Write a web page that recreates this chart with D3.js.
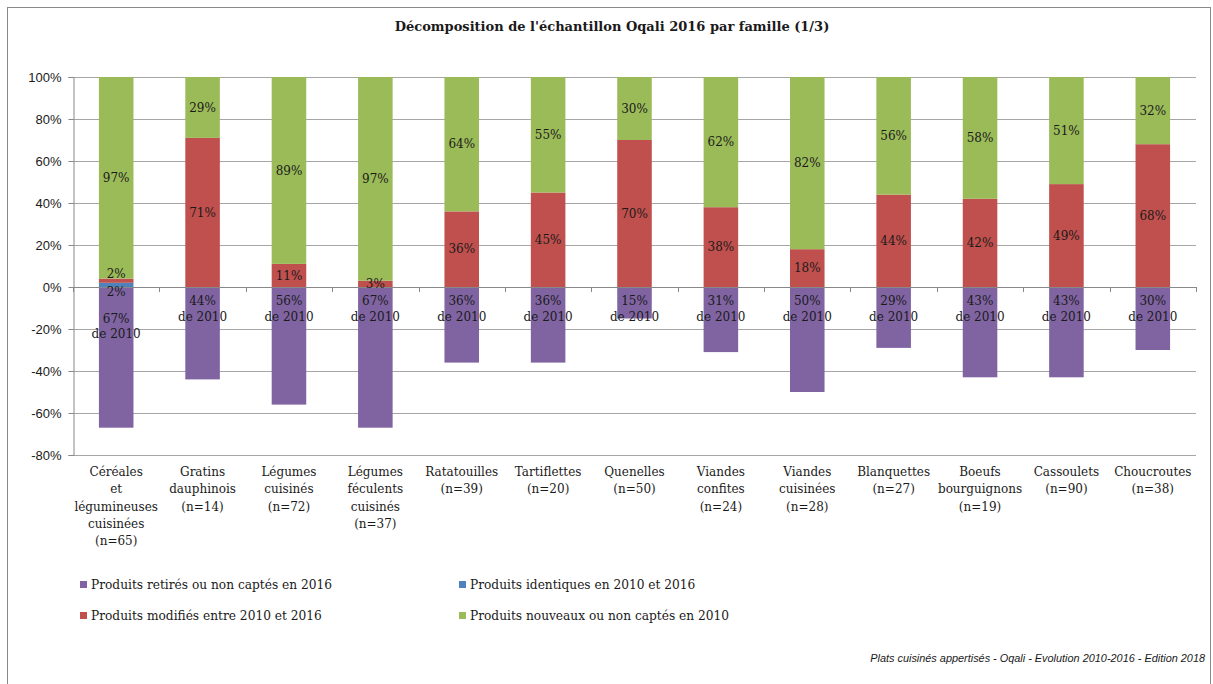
<!DOCTYPE html>
<html><head><meta charset="utf-8">
<script src="https://cdn.jsdelivr.net/npm/d3@7"></script>
<style>
body{margin:0;background:#fff;}
svg text{fill:#1a1a1a;}
</style></head>
<body><svg id="c" width="1213" height="684"></svg>
<script>
const categories = [
  ["Céréales","et","légumineuses","cuisinées","(n=65)"],
  ["Gratins","dauphinois","(n=14)"],
  ["Légumes","cuisinés","(n=72)"],
  ["Légumes","féculents","cuisinés","(n=37)"],
  ["Ratatouilles","(n=39)"],
  ["Tartiflettes","(n=20)"],
  ["Quenelles","(n=50)"],
  ["Viandes","confites","(n=24)"],
  ["Viandes","cuisinées","(n=28)"],
  ["Blanquettes","(n=27)"],
  ["Boeufs","bourguignons","(n=19)"],
  ["Cassoulets","(n=90)"],
  ["Choucroutes","(n=38)"]
];
const retires    = [67,44,56,67,36,36,15,31,50,29,43,43,30];
const identiques = [2,0,0,0,0,0,0,0,0,0,0,0,0];
const modifies   = [2,71,11,3,36,45,70,38,18,44,42,49,68];
const nouveaux   = [97,29,89,97,64,55,30,62,82,56,58,51,32];
const yTicks = [100,80,60,40,20,0,-20,-40,-60,-80];
const seriesNames = ["Produits retirés ou non captés en 2016","Produits identiques en 2010 et 2016","Produits modifiés entre 2010 et 2016","Produits nouveaux ou non captés en 2010"];
const colors = ["#8064A2","#4F81BD","#C0504D","#9BBB59"];
const title = "Décomposition de l'échantillon Oqali 2016 par famille (1/3)";
const footer = "Plats cuisinés appertisés - Oqali - Evolution 2010-2016 - Edition 2018";

const serif = "'DejaVu Serif', serif";
const sans = "'Liberation Sans', sans-serif";
const svg = d3.select("#c");

svg.append("rect").attr("x",7.5).attr("y",7.5).attr("width",1203).attr("height",700)
  .attr("fill","none").attr("stroke","#888").attr("stroke-width",1);

svg.append("text").attr("x",612).attr("y",31).attr("text-anchor","middle")
  .style("font-family",serif).style("font-weight","bold").style("font-size","13px").text(title);

const L=73, R=1196;
const y = d3.scaleLinear().domain([-80,100]).range([455,77]);
const x = d3.scaleBand().domain(d3.range(categories.length)).range([L,R]).paddingInner(0.6).paddingOuter(0.3);

// gridlines
const g = svg.append("g");
g.selectAll("line.grid").data(yTicks).join("line")
  .attr("x1",L).attr("x2",R).attr("y1",d=>Math.round(y(d))+0.5).attr("y2",d=>Math.round(y(d))+0.5)
  .attr("stroke","#a6a6a6").attr("stroke-width",1);

// y axis
const yAxis = d3.axisLeft(y).tickValues(yTicks).tickSize(5).tickFormat(d=>d+"%");
const ya = svg.append("g").attr("transform",`translate(${L+0.5},0)`).call(yAxis);
ya.select(".domain").attr("stroke","#888");
ya.selectAll(".tick line").attr("stroke","#888");
ya.selectAll(".tick text").style("font-family",sans).style("font-size","13px").attr("fill","#222").attr("x",-12);

// clip
svg.append("clipPath").attr("id","pc").append("rect").attr("x",L).attr("y",y(100)).attr("width",R-L).attr("height",y(-80)-y(100));
const bars = svg.append("g").attr("clip-path","url(#pc)");
const bw = x.bandwidth();
categories.forEach((c,i)=>{
  const x0 = x(i);
  bars.append("rect").attr("x",x0).attr("width",bw).attr("y",y(0)).attr("height",y(-retires[i])-y(0)).attr("fill",colors[0]);
  let base = 0;
  [[identiques[i],colors[1]],[modifies[i],colors[2]],[nouveaux[i],colors[3]]].forEach(([v,col])=>{
    if(v>0){
      bars.append("rect").attr("x",x0).attr("width",bw).attr("y",y(base+v)).attr("height",y(base)-y(base+v)).attr("fill",col);
    }
    base+=v;
  });
});

// x axis at zero
const band = (R-L)/categories.length;
svg.append("line").attr("x1",L).attr("x2",R).attr("y1",Math.round(y(0))+0.5).attr("y2",Math.round(y(0))+0.5).attr("stroke","#888");
svg.selectAll("line.xt").data(d3.range(categories.length+1)).join("line")
  .attr("x1",d=>Math.round(L+d*band)+0.5).attr("x2",d=>Math.round(L+d*band)+0.5)
  .attr("y1",y(0)).attr("y2",y(0)+5).attr("stroke","#888");

// data labels
const lab = svg.append("g").style("font-family",serif).style("font-size","12px").attr("text-anchor","middle");
function t(xc,yc,s){lab.append("text").attr("x",xc).attr("y",yc).attr("dy","0.35em").text(s);}
categories.forEach((c,i)=>{
  const xc = x(i)+bw/2;
  const hasId = identiques[i]>0;
  const base1 = identiques[i];
  t(xc, y(base1+modifies[i]+Math.min(nouveaux[i],100-base1-modifies[i])/2), nouveaux[i]+"%");
  t(xc, y(base1+modifies[i]/2)-(hasId?7:0), modifies[i]+"%");
  if(hasId) t(xc, y(0)+5, identiques[i]+"%");
  const off = hasId?18:0;
  t(xc, y(0)+14+off, retires[i]+"%");
  t(xc, y(0)+30+off-(hasId?1:0), "de 2010");
});

// category labels
const cl = svg.append("g").style("font-family",serif).style("font-size","12px").attr("text-anchor","middle");
categories.forEach((lines,i)=>{
  const xc = x(i)+bw/2;
  lines.forEach((s,j)=>{
    cl.append("text").attr("x",xc).attr("y",472+j*17.2).attr("dy","0.35em").text(s);
  });
});

// legend
const legPos = [[80,585],[459,585],[80,616],[459,616]];
const legOrder = [0,1,2,3];
const lg = svg.append("g").style("font-family",serif).style("font-size","12.2px");
legOrder.forEach((k,j)=>{
  const [lx,ly] = legPos[j];
  lg.append("rect").attr("x",lx).attr("y",ly-4).attr("width",7).attr("height",7).attr("fill",colors[k]);
  lg.append("text").attr("x",lx+11).attr("y",ly).attr("dy","0.35em").text(seriesNames[k]);
});

svg.append("text").attr("x",1205).attr("y",658).attr("text-anchor","end").attr("dy","0.35em")
  .style("font-family",sans).style("font-style","italic").style("font-size","10.9px").text(footer);
</script></body></html>
